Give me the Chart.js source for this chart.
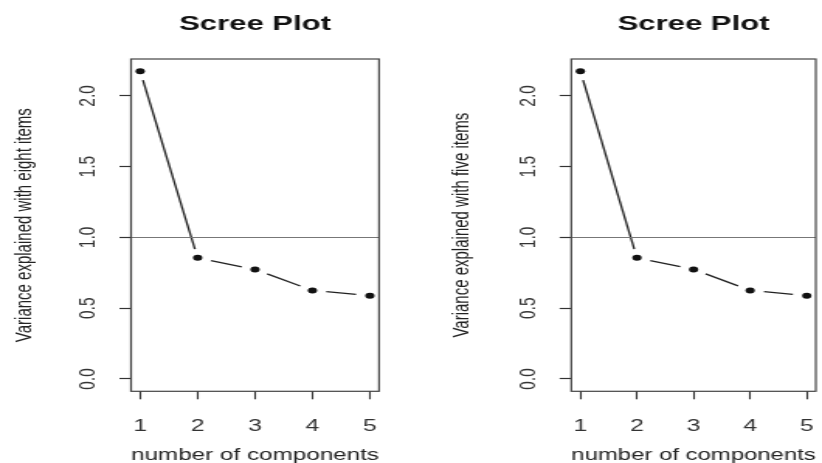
<!DOCTYPE html>
<html>
<head>
<meta charset="utf-8">
<script src="https://cdn.jsdelivr.net/npm/chart.js@4/dist/chart.umd.min.js"></script>
<style>
  html, body { margin: 0; padding: 0; background: #fff; }
  #wrap { position: relative; width: 822px; height: 463px; overflow: hidden; background: #fff; }
  .panel { position: absolute; top: 0; width: 265px; height: 463px; transform: scaleX(1.5509); transform-origin: 0 0; }
</style>
</head>
<body>
<div id="wrap">
  <div class="panel" style="left:0px"><canvas id="c1"></canvas></div>
  <div class="panel" style="left:411px"><canvas id="c2"></canvas></div>
</div>
<script>
// ---- data ----
const components = [1, 2, 3, 4, 5];
const eightItems = [2.174, 0.856, 0.774, 0.626, 0.588];
const fiveItems  = [2.174, 0.856, 0.774, 0.626, 0.588];
const xTicks = [1, 2, 3, 4, 5];
const yTicks = [0, 0.5, 1.0, 1.5, 2.0];
const yTickLabels = ['0.0', '0.5', '1.0', '1.5', '2.0'];
const xLimits = [0.84, 5.16];
const yLimits = [-0.087, 2.261];
const refLevel = 1.0;
const titleText = 'Scree Plot';
const xTitle = 'number of components';
const yTitles = ['Variance explained with eight items', 'Variance explained with five items'];

const FONT = "'Liberation Sans', Arial, Helvetica, sans-serif";
const GAP = 9;

const boxPlugin = {
  id: 'box',
  afterDraw(chart) {
    const { ctx, chartArea: a } = chart;
    ctx.save();
    ctx.strokeStyle = '#444';
    ctx.lineWidth = 1.2;
    ctx.strokeRect(a.left, a.top, a.right - a.left, a.bottom - a.top);
    ctx.restore();
  }
};

function makeChart(id, values, yTitle, areaLeft, padRight, yTitlePad) {
  const pts = components.map((c, i) => ({ x: c, y: values[i] }));
  const ref = [{ x: xLimits[0], y: refLevel }, { x: xLimits[1], y: refLevel }];
  return new Chart(document.getElementById(id), {
    type: 'line',
    data: {
      datasets: [
        {
          data: ref,
          borderColor: '#777',
          borderWidth: 1.1,
          pointRadius: 0,
          fill: false
        },
        {
          data: pts,
          borderColor: '#222',
          borderWidth: 1.3,
          pointRadius: 3,
          pointBorderWidth: 0,
          pointBackgroundColor: '#111',
          fill: false,
          segment: {
            borderDash: (ctx) => {
              const dx = ctx.p1.x - ctx.p0.x, dy = ctx.p1.y - ctx.p0.y;
              const L = Math.hypot(dx, dy);
              return [0, GAP, Math.max(0, L - 2 * GAP), 1000 + ctx.p0DataIndex];
            }
          }
        }
      ]
    },
    options: {
      responsive: true,
      maintainAspectRatio: false,
      animation: false,
      events: [],
      layout: { padding: { left: 0, right: padRight, top: 0, bottom: 0 } },
      plugins: {
        legend: { display: false },
        tooltip: { enabled: false },
        title: {
          display: true,
          text: titleText,
          fullSize: false,
          color: '#111',
          font: { family: FONT, size: 20, weight: 'bold' },
          padding: { top: 12, bottom: 23 }
        }
      },
      scales: {
        x: {
          type: 'linear',
          min: xLimits[0],
          max: xLimits[1],
          afterBuildTicks: (s) => { s.ticks = xTicks.map(v => ({ value: v })); },
          afterFit: (s) => { s.height = 463 - 391.3; s.paddingLeft = 0; s.paddingRight = 0; },
          border: { display: false },
          grid: { drawOnChartArea: false, drawTicks: true, tickLength: 8, color: '#333', tickWidth: 1.1 },
          ticks: {
            color: '#333',
            padding: 18,
            maxRotation: 0,
            font: { family: FONT, size: 16 },
            callback: (v) => String(v)
          },
          title: {
            display: true,
            text: xTitle,
            color: '#222',
            font: { family: FONT, size: 16 },
            padding: { top: 0, bottom: -2 }
          }
        },
        y: {
          type: 'linear',
          min: yLimits[0],
          max: yLimits[1],
          afterBuildTicks: (s) => { s.ticks = yTicks.map(v => ({ value: v })); },
          afterFit: (s) => { s.width = areaLeft; },
          border: { display: false },
          grid: { drawOnChartArea: false, drawTicks: true, tickLength: 7.5, color: '#333', tickWidth: 1.2 },
          ticks: {
            color: '#333',
            padding: 9.5,
            minRotation: 90,
            maxRotation: 90,
            crossAlign: 'center',
            font: { family: FONT, size: 15.5 },
            callback: (v) => yTickLabels[yTicks.indexOf(v)] ?? ''
          },
          title: {
            display: true,
            text: yTitle,
            color: '#222',
            font: { family: FONT, size: 15 },
            padding: { top: yTitlePad, bottom: 0 }
          }
        }
      }
    },
    plugins: [boxPlugin]
  });
}

makeChart('c1', eightItems, yTitles[0], 84.47, 20.6, 7.3);
makeChart('c2', fiveItems, yTitles[1], 103.36, 3.2, 23.5);
</script>
</body>
</html>
